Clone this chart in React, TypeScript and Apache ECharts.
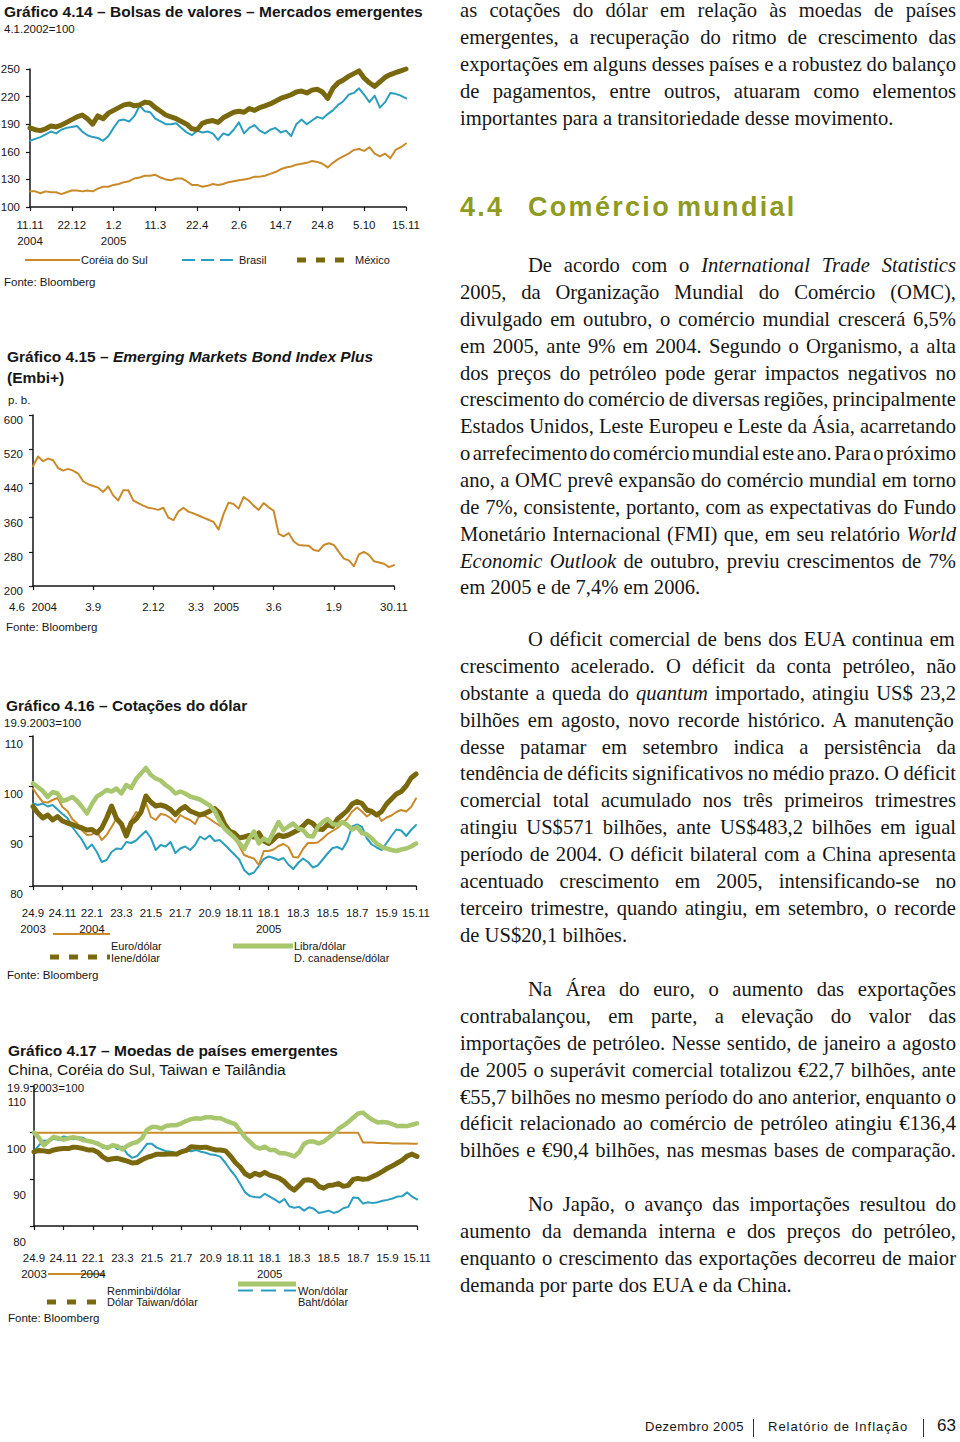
import React, { useEffect, useMemo, useRef } from "react";
import * as echarts from "echarts";

const SANS = '"Liberation Sans", Arial, Helvetica, sans-serif';
const SERIF = '"Liberation Serif", "Times New Roman", serif';
const INK = "#161616";
const ORANGE = "#C98A2A";
const TEAL = "#2A9EBE";
const OLIVE = "#7A680E";
const LGREEN = "#A8C66E";
const HEAD = "#8E9B20";

// ---------------- Gráfico 4.14 ----------------
const ticks414 = ["11.11\n2004", "22.12", "1.2\n2005", "11.3", "22.4", "2.6", "14.7", "24.8", "5.10", "15.11"];
const coreia = [117,117,115,117,116,116,114,116,118,118,117,118,117,120,122,122,124,125,127,128,131,132,134,134,135,132,130,129,131,131,128,124,124,122,123,125,124,125,127,128,129,130,131,133,133,134,136,138,141,143,144,146,147,148,150,149,147,143,148,152,155,158,162,163,161,165,158,155,158,153,162,165,169];
const brasil = [172,174,176,179,182,180,184,186,187,188,182,178,176,175,172,177,186,194,195,193,199,210,204,203,196,193,190,190,191,186,181,178,183,181,182,180,173,180,178,184,192,180,186,189,183,180,184,186,181,183,177,190,195,190,194,198,196,201,205,211,215,222,224,229,222,214,221,208,214,224,223,221,218];
const mexico = [186,184,183,185,188,187,189,192,195,198,200,196,190,199,196,202,205,208,211,212,210,211,214,213,208,204,200,198,196,193,190,185,184,191,193,194,192,197,200,203,204,203,207,205,208,210,212,215,218,220,222,225,226,224,227,228,225,218,229,235,238,242,245,248,240,235,231,236,241,244,246,248,250];
const legend414 = ["Coréia do Sul", "Brasil", "México"];

// ---------------- Gráfico 4.15 ----------------
const ticks415 = ["4.6  2004", "3.9", "2.12", "3.3   2005", "3.6", "1.9", "30.11"];
const embi = [480,503,492,498,494,476,470,474,470,463,445,438,434,430,420,433,412,400,424,424,400,394,388,383,381,378,383,360,354,374,383,374,370,365,360,355,350,332,368,395,392,381,408,400,388,378,394,384,376,322,316,324,304,296,295,294,284,282,296,300,296,280,264,260,246,274,280,273,258,255,252,244,249];

// ---------------- Gráfico 4.16 ----------------
const ticks416 = ["24.9\n2003", "24.11", "22.1\n2004", "23.3", "21.5", "21.7", "20.9", "18.11", "18.1\n2005", "18.3", "18.5", "18.7", "15.9", "15.11"];
const euro = [99.5,98.0,96.8,96.7,97.2,97.6,95.8,95.0,93.4,92.5,91.1,90.2,90.3,90.9,89.2,90.2,91.8,93.5,92.0,91.2,93.2,94.8,94.3,96.6,93.8,93.2,94.4,94.2,93.6,92.7,94.2,93.6,93.2,92.4,94.3,94.0,93.4,92.7,92.1,91.5,91.0,89.8,88.0,86.2,85.8,85.5,84.2,87.0,87.0,87.3,88.0,88.4,87.8,85.8,85.7,87.4,88.6,88.6,88.7,89.5,90.4,91.0,91.6,92.5,93.5,94.9,95.7,94.9,93.9,94.6,94.6,93.0,93.7,94.1,94.8,95.2,94.9,95.8,97.5];
const libra = [100.5,99.8,99.0,97.8,98.8,98.5,97.0,97.3,97.8,97.0,95.8,94.5,96.4,97.9,98.5,99.2,98.9,99.5,98.5,100.2,99.6,101.4,102.5,103.6,102.2,101.5,101.1,100.2,99.5,98.5,98.9,98.5,97.9,97.6,97.3,96.7,96.1,95.0,93.0,91.5,90.6,89.7,88.6,87.4,89.4,90.9,88.5,89.5,88.9,90.9,92.8,91.2,91.9,92.5,91.5,91.2,90.0,89.9,91.8,92.8,93.4,92.4,92.2,92.8,92.2,91.3,91.8,90.6,90.3,89.5,88.5,87.8,87.5,87.2,87.0,87.3,87.5,87.9,88.5];
const iene = [95.9,94.6,93.6,94.2,93.2,93.9,93.0,92.6,92.3,91.9,91.6,91.2,91.3,90.6,91.6,93.6,96.0,93.5,92.4,90.0,92.6,93.4,94.8,98.0,96.8,96.0,96.2,95.9,95.3,94.3,95.3,95.9,95.0,94.6,94.2,94.5,95.0,95.5,94.6,92.4,91.0,90.6,89.6,89.8,90.1,89.8,90.6,89.0,88.5,89.3,90.2,89.9,90.2,90.7,91.2,92.0,93.0,92.5,91.4,91.3,92.3,91.9,93.4,94.2,95.1,96.4,96.9,96.5,95.2,94.9,94.2,94.9,96.4,97.4,98.4,98.9,100.0,101.6,102.4];
const canadense = [96.5,96.2,96.5,95.9,96.2,95.3,94.4,93.6,91.8,90.5,89.2,87.4,88.3,86.8,84.8,85.2,86.8,87.5,87.4,88.8,88.6,89.1,90.1,91.0,89.6,87.2,88.2,87.9,88.8,86.6,87.5,87.9,87.2,88.2,89.9,89.3,90.1,89.0,89.2,88.3,87.3,86.3,85.3,83.2,82.3,82.7,84.0,85.4,85.9,85.6,85.2,85.6,84.3,83.4,84.6,85.5,84.8,83.7,84.1,85.3,86.5,87.6,87.8,87.3,89.0,91.9,92.3,91.8,89.5,88.3,87.7,87.2,88.6,90.0,91.3,91.1,90.0,91.2,92.2];

// ---------------- Gráfico 4.17 ----------------
const ticks417 = ["24.9\n2003", "24.11", "22.1\n2004", "23.3", "21.5", "21.7", "20.9", "18.11", "18.1\n2005", "18.3", "18.5", "18.7", "15.9", "15.11"];
const renminbi = [
  100,100,100,100,100,100,100,100,100,100,
  100,100,100,100,100,100,100,100,100,100,
  100,100,100,100,100,100,100,100,100,100,
  100,100,100,100,100,100,100,100,100,100,
  100,100,100,100,100,100,100,100,100,100,
  100,100,100,100,100,100,100,100,100,100,
  100,100,100,100,100,100,100,
  97.9,97.9,97.9,97.8,97.8,97.8,97.7,97.7,97.7,97.7,97.6,97.6,
];
const won = [96.0,97.3,98.3,98.2,98.7,98.5,99.2,99.0,98.6,99.0,98.9,98.2,98.1,97.9,96.7,97.1,97.2,96.5,97.0,95.4,94.6,95.0,96.2,97.6,97.6,96.8,96.4,96.0,95.9,95.6,95.8,96.2,96.0,96.3,95.9,95.7,95.3,95.2,94.8,93.5,92.0,90.7,89.0,87.2,86.4,86.2,86.1,86.9,86.3,85.7,85.0,85.8,84.2,83.9,84.1,83.3,84.0,83.7,82.8,83.0,83.3,82.8,83.1,83.8,84.1,86.1,86.0,84.8,85.1,84.9,85.1,85.4,85.6,85.9,86.3,86.4,87.2,86.3,85.7];
const taiwan = [95.9,96.2,96.1,95.9,96.3,96.5,96.6,96.6,96.9,96.8,96.6,96.3,96.3,95.8,94.8,94.2,94.4,94.5,94.2,93.9,93.5,93.6,94.2,94.7,95.0,95.4,95.4,95.4,95.5,95.4,95.9,96.2,97.0,96.9,96.8,96.9,96.6,96.3,96.3,96.1,95.0,93.6,92.6,91.2,90.6,91.3,90.9,91.5,90.9,90.6,90.2,89.5,88.4,87.7,88.7,89.8,89.9,89.6,88.5,88.1,88.7,88.8,89.1,88.5,88.7,90.0,90.2,90.0,90.1,90.6,91.1,91.7,92.4,92.9,93.5,94.1,95.0,95.4,94.9];
const baht = [100.0,98.9,97.3,98.2,99.1,98.8,98.5,98.8,99.0,98.8,98.4,98.2,98.0,97.6,97.1,96.7,97.3,97.1,96.4,97.2,97.7,98.0,98.8,100.6,101.2,101.2,100.9,101.5,101.6,101.6,102.0,102.5,102.9,103.1,103.0,103.3,103.3,103.1,103.1,102.6,102.2,101.8,100.4,99.0,98.0,97.0,96.6,97.0,96.3,96.3,95.6,95.6,95.3,94.9,95.8,97.6,98.1,98.1,97.7,98.1,98.9,99.7,100.8,101.5,102.3,103.2,104.1,104.3,103.4,102.7,102.2,102.3,102.2,101.8,101.4,101.5,101.4,101.7,102.0];

// ---------------- Texto ----------------
const para0 = [
  "as cotações do dólar em relação às moedas de países",
  "emergentes, a recuperação do ritmo de crescimento das",
  "exportações em alguns desses países e a robustez do balanço",
  "de pagamentos, entre outros, atuaram como elementos",
  "importantes para a transitoriedade desse movimento.",
];
const para1 = [
  "De acordo com o _International Trade Statistics_",
  "2005, da Organização Mundial do Comércio (OMC),",
  "divulgado em outubro, o comércio mundial crescerá 6,5%",
  "em 2005, ante 9% em 2004. Segundo o Organismo, a alta",
  "dos preços do petróleo pode gerar impactos negativos no",
  "crescimento do comércio de diversas regiões, principalmente",
  "Estados Unidos, Leste Europeu e Leste da Ásia, acarretando",
  "o arrefecimento do comércio mundial este ano. Para o próximo",
  "ano, a OMC prevê expansão do comércio mundial em torno",
  "de 7%, consistente, portanto, com as expectativas do Fundo",
  "Monetário Internacional (FMI) que, em seu relatório _World_",
  "_Economic Outlook_ de outubro, previu crescimentos de 7%",
  "em 2005 e de 7,4% em 2006.",
];
const para2 = [
  "O déficit comercial de bens dos EUA continua em",
  "crescimento acelerado. O déficit da conta petróleo, não",
  "obstante a queda do _quantum_ importado, atingiu US$ 23,2",
  "bilhões em agosto, novo recorde histórico. A manutenção",
  "desse patamar em setembro indica a persistência da",
  "tendência de déficits significativos no médio prazo. O déficit",
  "comercial total acumulado nos três primeiros trimestres",
  "atingiu US$571 bilhões, ante US$483,2 bilhões em igual",
  "período de 2004. O déficit bilateral com a China apresenta",
  "acentuado crescimento em 2005, intensificando-se no",
  "terceiro trimestre, quando atingiu, em setembro, o recorde",
  "de US$20,1 bilhões.",
];
const para3 = [
  "Na Área do euro, o aumento das exportações",
  "contrabalançou, em parte, a elevação do valor das",
  "importações de petróleo. Nesse sentido, de janeiro a agosto",
  "de 2005 o superávit comercial totalizou €22,7 bilhões, ante",
  "€55,7 bilhões no mesmo período do ano anterior, enquanto o",
  "déficit relacionado ao comércio de petróleo atingiu €136,4",
  "bilhões e €90,4 bilhões, nas mesmas bases de comparação.",
];
const para4 = [
  "No Japão, o avanço das importações resultou do",
  "aumento da demanda interna e dos preços do petróleo,",
  "enquanto o crescimento das exportações decorreu de maior",
  "demanda por parte dos EUA e da China.",
];
const paragraphs = [para0, para1, para2, para3, para4];

// layout of the prose (styles, not data)
const PARA_BASE = [17.5, 272.5, 646.5, 996.5, 1211.5];
const PARA_INDENT = [false, true, true, true, true];
const PARA_JUSTIFY_LAST = [false, false, false, true, false];
const PROSE_LEFT = 460;
const PROSE_WIDTH = 496;
const PROSE_INDENT = 68;
const PROSE_LEAD = 26.85;
const PROSE_FS = 20.6;

const pts = (a: number[]) => a.map((v, i) => [i, v]);

function xAxis(gridIndex: number, steps: number, labels: string[], margin: number) {
  return {
    type: "value",
    gridIndex,
    min: 0,
    max: steps * (labels.length - 1),
    interval: steps,
    axisLine: { show: true, onZero: false, lineStyle: { color: INK, width: 1.5 } },
    axisTick: { show: true, inside: false, length: 4, lineStyle: { color: INK, width: 1.2 } },
    splitLine: { show: false },
    axisLabel: {
      show: true,
      margin,
      color: INK,
      fontSize: 11.5,
      fontFamily: SANS,
      lineHeight: 16,
      showMinLabel: true,
      showMaxLabel: true,
      hideOverlap: false,
      formatter: (v: number) => labels[Math.round(v / steps)] ?? "",
    },
  };
}

// shift = how far (px) the reference prints each value label below its tick
function yAxis(gridIndex: number, min: number, max: number, interval: number, margin: number, shift: number) {
  const label: any = {
    margin,
    color: INK,
    fontSize: 11.5,
    fontFamily: SANS,
    showMinLabel: true,
    showMaxLabel: true,
  };
  if (shift > 0) {
    label.verticalAlign = "top";
    label.lineHeight = shift * 2;
  }
  return {
    type: "value",
    gridIndex,
    min,
    max,
    interval,
    axisLine: { show: true, onZero: false, lineStyle: { color: INK, width: 1.5 } },
    axisTick: { show: true, inside: false, length: 4, lineStyle: { color: INK, width: 1.2 } },
    splitLine: { show: false },
    axisLabel: label,
  };
}

function lineSeries(name: string, data: number[], idx: number, color: string, width: number, z: number) {
  return {
    type: "line",
    name,
    xAxisIndex: idx,
    yAxisIndex: idx,
    data: pts(data),
    symbol: "none",
    showSymbol: false,
    clip: false,
    silent: true,
    z,
    lineStyle: { color, width, join: "round", cap: "round" },
    itemStyle: { color },
    emphasis: { disabled: true },
  };
}

const txt = (x: number, y: number, text: string, size = 11.5, extra: any = {}) => ({
  type: "text",
  x,
  y,
  silent: true,
  style: {
    text,
    fill: INK,
    fontSize: size,
    fontFamily: SANS,
    align: "left",
    verticalAlign: "middle",
    ...extra,
  },
});
const seg = (x1: number, y1: number, x2: number, y2: number, stroke: string, lineWidth: number, lineDash?: number[]) => ({
  type: "line",
  silent: true,
  shape: { x1, y1, x2, y2 },
  style: { stroke, lineWidth, lineDash: lineDash || null },
});

function buildOption() {
  const grids = [
    { left: 30, top: 69, width: 376, height: 138 },
    { left: 33, top: 415, width: 361, height: 171 },
    { left: 33, top: 736, width: 383, height: 150 },
    { left: 34, top: 1086, width: 383, height: 140 },
  ].map((g) => ({ ...g, containLabel: false, outerBoundsMode: "none", show: false }));

  const titleStyle = { fontWeight: "bold" };

  return {
    animation: false,
    backgroundColor: "transparent",
    grid: grids,
    xAxis: [
      xAxis(0, 8, ticks414, 10),
      xAxis(1, 12, ticks415, 13),
      xAxis(2, 6, ticks416, 19),
      xAxis(3, 6, ticks417, 24),
    ],
    yAxis: [
      yAxis(0, 100, 250, 30, 10, 0),
      yAxis(1, 200, 600, 80, 10, 5),
      yAxis(2, 80, 110, 10, 10, 8),
      yAxis(3, 80, 110, 10, 8, 16),
    ],
    series: [
      lineSeries(legend414[0], coreia, 0, ORANGE, 2, 2),
      lineSeries(legend414[1], brasil, 0, TEAL, 2, 3),
      lineSeries(legend414[2], mexico, 0, OLIVE, 5, 4),

      lineSeries("Embi+", embi, 1, ORANGE, 2, 2),

      lineSeries("D. canadense/dólar", canadense, 2, TEAL, 2, 2),
      lineSeries("Euro/dólar", euro, 2, ORANGE, 2, 3),
      lineSeries("Iene/dólar", iene, 2, OLIVE, 5, 4),
      lineSeries("Libra/dólar", libra, 2, LGREEN, 4.5, 5),

      lineSeries("Won/dólar", won, 3, TEAL, 2, 2),
      lineSeries("Renminbi/dólar", renminbi, 3, ORANGE, 2, 3),
      lineSeries("Dólar Taiwan/dólar", taiwan, 3, OLIVE, 5, 4),
      lineSeries("Baht/dólar", baht, 3, LGREEN, 4.5, 5),
    ],
    graphic: {
      elements: [
        // 4.14
        txt(4, 11.5, "Gráfico 4.14 – Bolsas de valores – Mercados emergentes", 15.5, titleStyle),
        txt(4, 28.5, "4.1.2002=100", 11.5),
        seg(25, 260, 80, 260, ORANGE, 2),
        txt(81, 260, legend414[0], 11),
        seg(182, 260, 235, 260, TEAL, 2, [13, 6]),
        txt(239, 260, legend414[1], 11),
        seg(297, 260, 350, 260, OLIVE, 5, [9, 10]),
        txt(355, 260, legend414[2], 11),
        txt(4, 281.5, "Fonte: Bloomberg", 11.5),

        // 4.15
        {
          type: "text",
          x: 7,
          y: 356,
          silent: true,
          style: {
            text: "{a|Gráfico 4.15 – }{b|Emerging Markets Bond Index Plus}",
            fill: INK,
            fontSize: 15.5,
            fontFamily: SANS,
            fontWeight: "bold",
            verticalAlign: "middle",
            rich: {
              a: { fontSize: 15.5, fontFamily: SANS, fontWeight: "bold", fill: INK },
              b: { fontSize: 15.5, fontFamily: SANS, fontWeight: "bold", fontStyle: "italic", fill: INK },
            },
          },
        },
        txt(7, 377, "(Embi+)", 15.5, titleStyle),
        txt(8, 400, "p. b.", 11.5),
        txt(6, 627, "Fonte: Bloomberg", 11.5),

        // 4.16
        txt(6, 705, "Gráfico 4.16 – Cotações do dólar", 15.5, titleStyle),
        txt(4, 723, "19.9.2003=100", 11.5),
        seg(53, 934, 110, 934, ORANGE, 2),
        txt(111, 946, "Euro/dólar", 11),
        seg(233, 946, 293, 946, LGREEN, 5),
        txt(294, 946, "Libra/dólar", 11),
        seg(50, 957, 110, 957, OLIVE, 5, [9, 10]),
        txt(111, 958, "Iene/dólar", 11),
        txt(294, 958, "D. canadense/dólar", 11),
        txt(7, 975, "Fonte: Bloomberg", 11.5),

        // 4.17
        txt(8, 1050, "Gráfico 4.17 – Moedas de países emergentes", 15.5, titleStyle),
        txt(8, 1069.5, "China, Coréia do Sul, Taiwan e Tailândia", 15.5),
        txt(7, 1088, "19.9.2003=100", 11.5),
        seg(48, 1274, 105, 1274, ORANGE, 2),
        seg(238, 1284, 296, 1284, LGREEN, 5),
        txt(107, 1291, "Renminbi/dólar", 11),
        seg(238, 1290.5, 296, 1290.5, TEAL, 2, [15, 8]),
        txt(298, 1291, "Won/dólar", 11),
        seg(47, 1302, 106, 1302, OLIVE, 5, [9, 11]),
        txt(107, 1302, "Dólar Taiwan/dólar", 11),
        txt(298, 1302, "Baht/dólar", 11),
        txt(8, 1318, "Fonte: Bloomberg", 11.5),
      ],
    },
  };
}

type Seg = { t: string; i: boolean };
const parseLine = (line: string): Seg[] =>
  line
    .split("_")
    .map((t, k) => ({ t, i: k % 2 === 1 }))
    .filter((s) => s.t.length > 0);

function layoutProse() {
  const canvas = document.createElement("canvas");
  const ctx = canvas.getContext("2d");
  const out: any[] = [];
  paragraphs.forEach((lines, p) => {
    lines.forEach((line, li) => {
      const segs = parseLine(line);
      const indent = PARA_INDENT[p] && li === 0 ? PROSE_INDENT : 0;
      const target = PROSE_WIDTH - indent;
      const isLast = li === lines.length - 1;
      const justify = !isLast || PARA_JUSTIFY_LAST[p];
      let w = 0;
      if (ctx) {
        for (const s of segs) {
          ctx.font = `${s.i ? "italic " : ""}${PROSE_FS}px "Liberation Serif"`;
          w += ctx.measureText(s.t).width;
        }
      }
      const spaces = (line.match(/ /g) || []).length;
      const chars = line.replace(/_/g, "").length;
      let ws = 0;
      let ls = 0;
      if (justify && ctx && spaces > 0) {
        ws = (target - w) / spaces;
        if (ws < -2.6) {
          ws = -2.6;
          ls = (target - w - ws * spaces) / chars;
        }
      }
      out.push({
        key: `${p}-${li}`,
        segs,
        left: PROSE_LEFT + indent,
        top: PARA_BASE[p] + li * PROSE_LEAD - 0.8375 * PROSE_FS,
        ws,
        ls,
      });
    });
  });
  return out;
}

export default function App() {
  const ref = useRef<HTMLDivElement>(null);
  const prose = useMemo(() => layoutProse(), []);

  useEffect(() => {
    if (!ref.current) return;
    const chart = echarts.init(ref.current, undefined, { renderer: "svg" });
    chart.setOption(buildOption() as any);
    return () => chart.dispose();
  }, []);

  const sansTop = (baseline: number, fs: number) => baseline - 0.8465 * fs;

  return (
    <div style={{ position: "absolute", left: 0, top: 0, width: 960, height: 1442, background: "#fff", overflow: "hidden" }}>
      <div ref={ref} style={{ position: "absolute", left: 0, top: 0, width: 960, height: 1442 }} />

      {prose.map((l) => (
        <div
          key={l.key}
          style={{
            position: "absolute",
            left: l.left,
            top: l.top,
            whiteSpace: "pre",
            fontFamily: SERIF,
            fontSize: PROSE_FS,
            lineHeight: 1,
            color: INK,
            wordSpacing: `${l.ws}px`,
            letterSpacing: `${l.ls}px`,
          }}
        >
          {l.segs.map((s: Seg, k: number) => (s.i ? <i key={k}>{s.t}</i> : <span key={k}>{s.t}</span>))}
        </div>
      ))}

      {[
        { t: "4.4", x: 460 },
        { t: "Comércio", x: 528 },
        { t: "mundial", x: 677 },
      ].map((h) => (
        <div
          key={h.t}
          style={{
            position: "absolute",
            left: h.x,
            top: sansTop(216.5, 27),
            whiteSpace: "pre",
            fontFamily: SANS,
            fontWeight: "bold",
            fontSize: 27,
            lineHeight: 1,
            letterSpacing: "2.3px",
            color: HEAD,
          }}
        >
          {h.t}
        </div>
      ))}

      <div style={{ position: "absolute", left: 645, top: sansTop(1431, 13), whiteSpace: "pre", fontFamily: SANS, fontSize: 13, lineHeight: 1, letterSpacing: "0.5px", color: INK }}>
        Dezembro 2005
      </div>
      <div style={{ position: "absolute", left: 753, top: 1419, width: 1, height: 18, background: "#333" }} />
      <div style={{ position: "absolute", left: 768, top: sansTop(1431, 13), whiteSpace: "pre", fontFamily: SANS, fontSize: 13, lineHeight: 1, letterSpacing: "1px", color: INK }}>
        Relatório de Inflação
      </div>
      <div style={{ position: "absolute", left: 923, top: 1419, width: 1, height: 18, background: "#333" }} />
      <div style={{ position: "absolute", left: 937, top: sansTop(1431, 17), whiteSpace: "pre", fontFamily: SANS, fontSize: 17, lineHeight: 1, color: INK }}>
        63
      </div>
    </div>
  );
}
